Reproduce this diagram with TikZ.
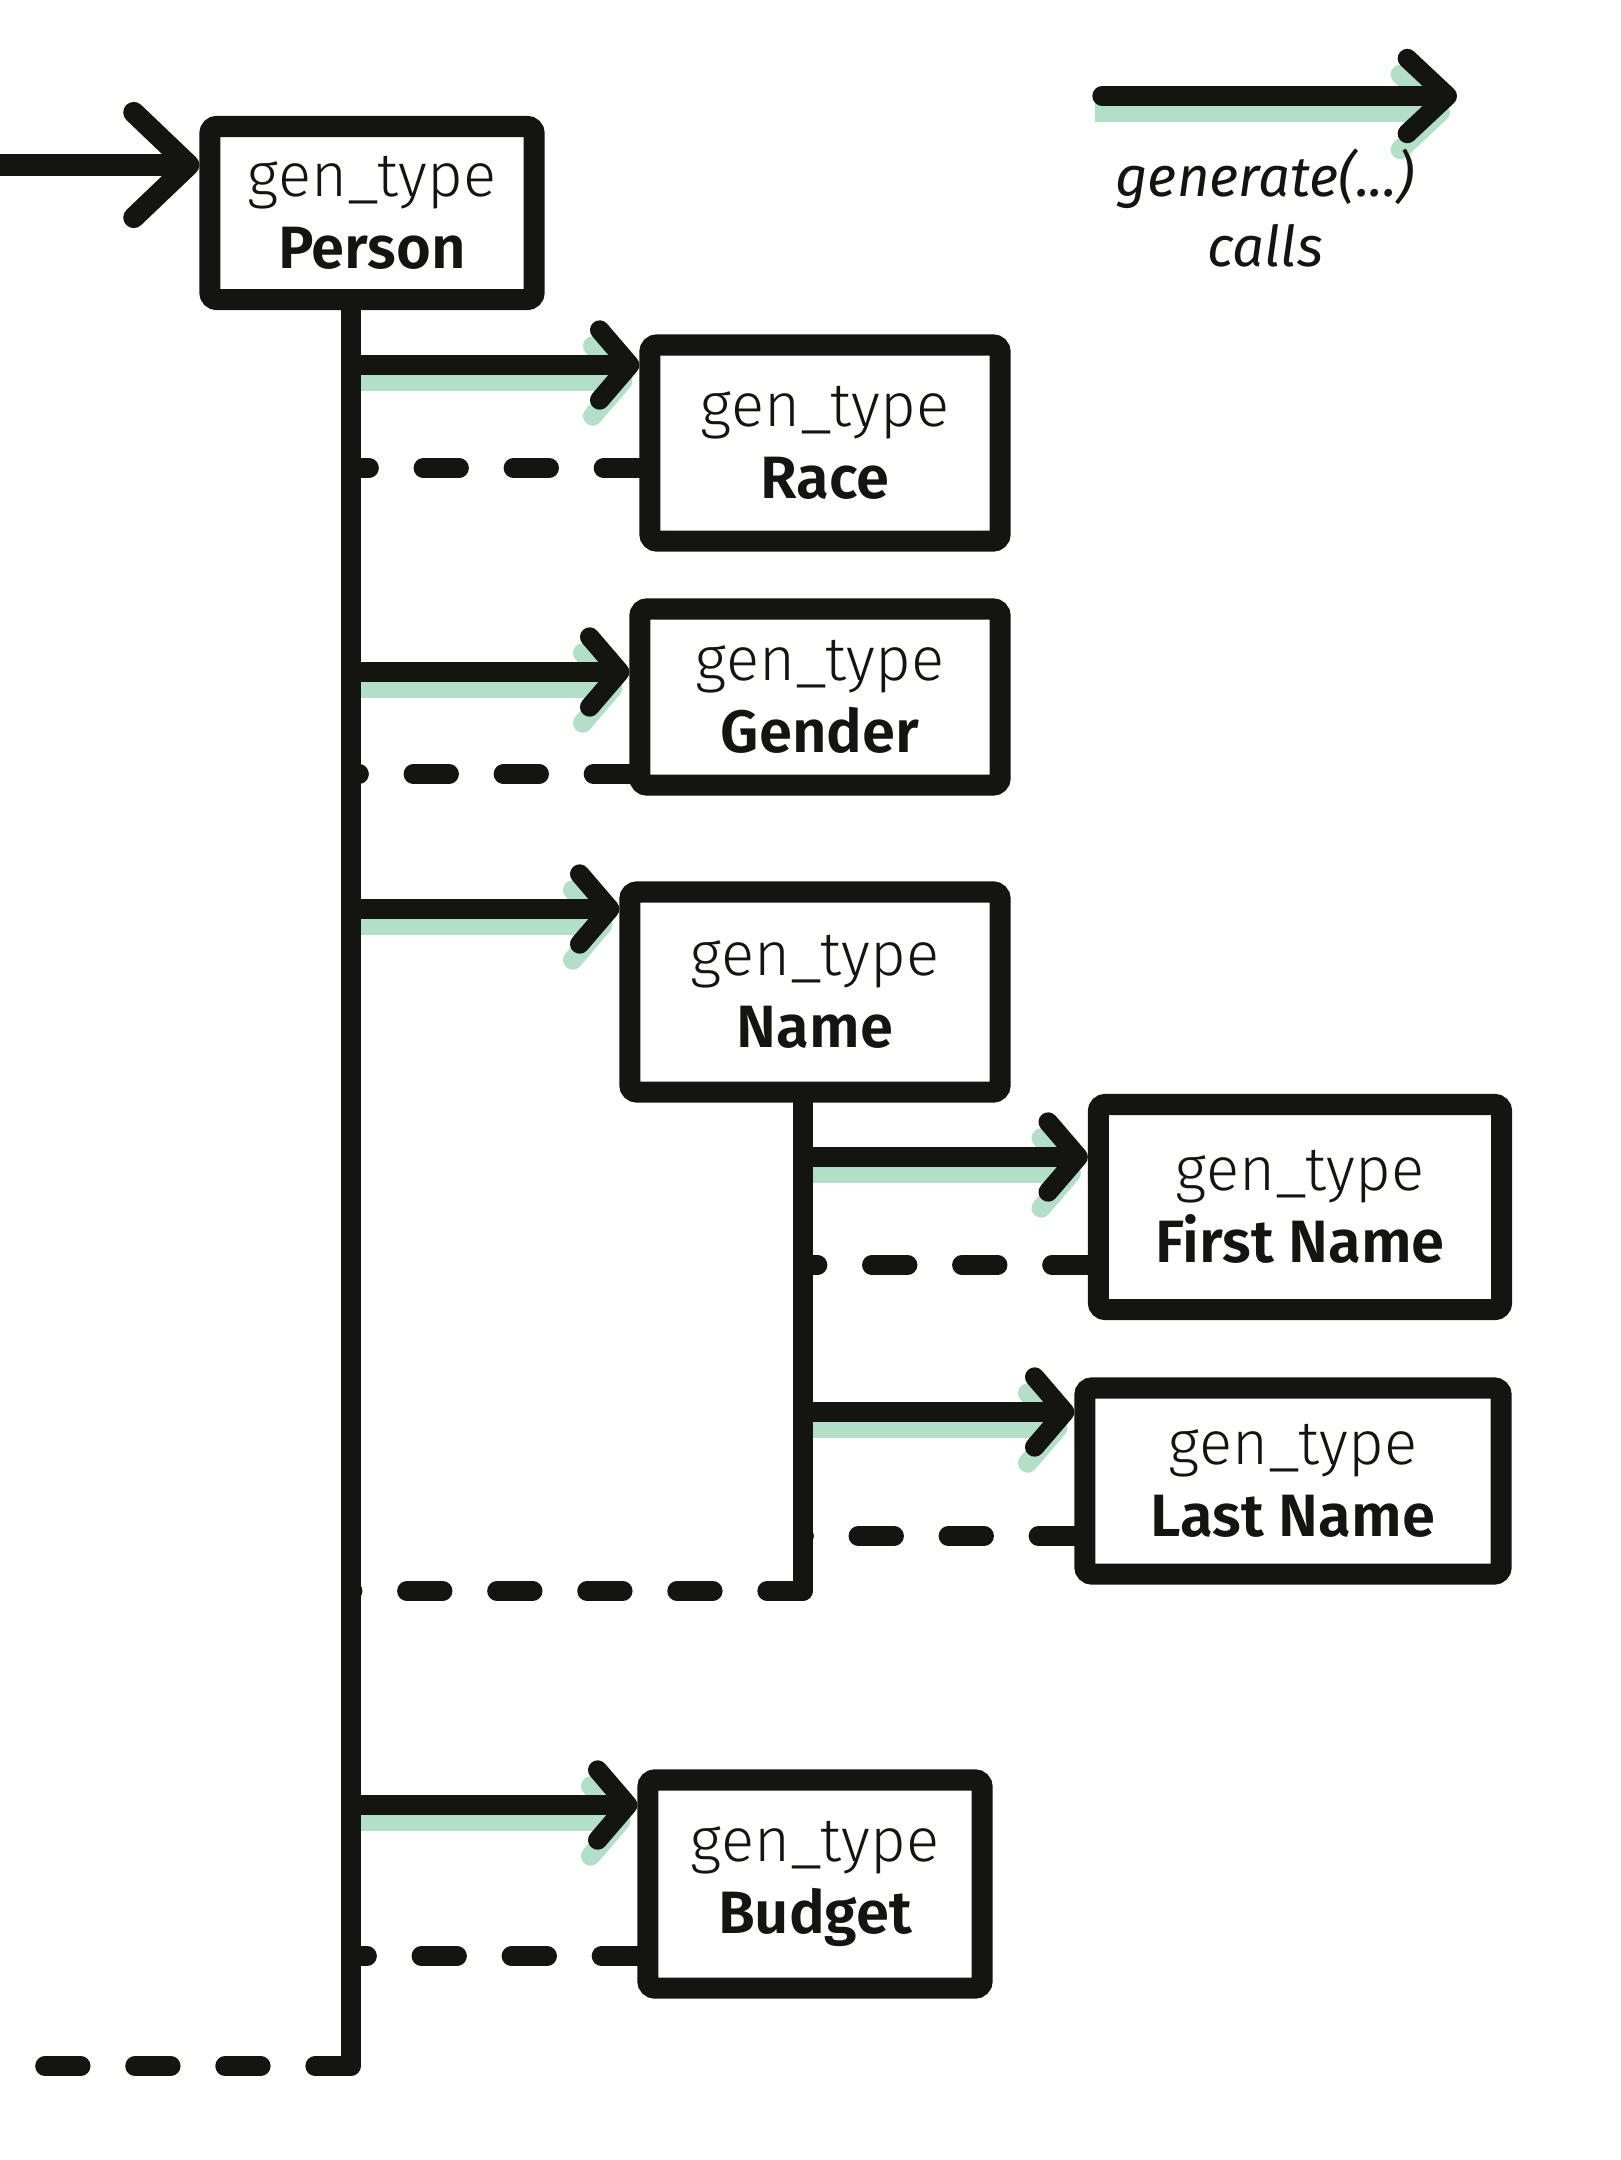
\documentclass[tikz,border=0pt]{standalone}
\usepackage{fontspec}
\setmainfont{Fira Sans}
\newfontfamily\thinfont{Fira Sans Light}
\newfontfamily\namefont{Fira Sans SemiBold}
\usetikzlibrary{arrows.meta}

\definecolor{ink}{HTML}{141511}
\definecolor{mint}{HTML}{B3DFC8}

\begin{document}
\begin{tikzpicture}[x=0.01cm, y=-0.01cm,
  box/.style={draw=ink, line width=6pt, rounded corners=2pt, align=center,
              inner sep=0pt, text=ink, font=\fontsize{17.5}{20.5}\selectfont},
  line/.style={draw=ink, line width=5.5pt, line cap=round},
  call/.style={line, -{Straight Barb[length=0.3cm, width=0.7cm, round]},
               preaction={draw=mint, line width=5.5pt, line cap=butt,
                          transform canvas={shift={(-7,16)}}}},
  ret/.style={line, dash pattern=on 0.36cm off 0.54cm},
  lbl/.style={font=\fontsize{16}{20}\selectfont\itshape, text=ink, align=center},
]
\useasboundingbox (0,0) rectangle (1620,2160);

% the gen_type boxes
\node[box, minimum width=3.24cm, minimum height=1.73cm] (person) at (372,213)
  {{\thinfont gen\_type}\\{\namefont\fontsize{17}{20}\selectfont Person}};
\node[box, minimum width=3.50cm, minimum height=1.96cm] (race) at (825,443)
  {{\thinfont gen\_type}\\{\namefont\fontsize{17}{20}\selectfont Race}};
\node[box, minimum width=3.60cm, minimum height=1.76cm] (gender) at (820,697)
  {{\thinfont gen\_type}\\{\namefont\fontsize{17}{20}\selectfont Gender}};
\node[box, minimum width=3.70cm, minimum height=2.00cm] (name) at (815,992)
  {{\thinfont gen\_type}\\{\namefont\fontsize{17}{20}\selectfont Name}};
\node[box, minimum width=4.03cm, minimum height=2.05cm] (first) at (1300,1207)
  {{\thinfont gen\_type}\\{\namefont\fontsize{17}{20}\selectfont First Name}};
\node[box, minimum width=4.16cm, minimum height=1.86cm] (last) at (1293,1481)
  {{\thinfont gen\_type}\\{\namefont\fontsize{17}{20}\selectfont Last Name}};
\node[box, minimum width=3.34cm, minimum height=2.08cm] (budget) at (815,1884)
  {{\thinfont gen\_type}\\{\namefont\fontsize{17}{20}\selectfont Budget}};

% trunk points
\coordinate (ptop) at (351,310);
\coordinate (pend) at (351,2066);
\coordinate (ntop) at (803,1100);
\coordinate (nend) at (803,1591);
\coordinate (caller) at (0,165);
\coordinate (back) at (41,2066);

% calls into Person
\draw[line, line width=6pt, -{Straight Barb[length=0.55cm, width=1.05cm, round]}] (caller) -- (caller -| person.west);

% calls from Person
\coordinate (c1) at (351,365);
\coordinate (c2) at (351,672);
\coordinate (c3) at (351,909);
\coordinate (c4) at (351,1805);
\draw[call] (c1) -- (c1 -| race.west);
\draw[call] (c2) -- (c2 -| gender.west);
\draw[call] (c3) -- (c3 -| name.west);
\draw[call] (c4) -- (c4 -| budget.west);

% returns to Person
\coordinate (r1) at (351,468);
\coordinate (r2) at (351,774);
\coordinate (r4) at (351,1956);
\draw[ret] (r1 -| race.west) -- (r1);
\draw[ret] (r2 -| gender.west) -- (r2);
\draw[ret] (r4 -| budget.west) -- (r4);
\draw[ret] (nend) -- (nend -| ptop);

% calls and returns of Name
\coordinate (n1) at (803,1157);
\coordinate (n2) at (803,1412);
\coordinate (m1) at (803,1265);
\coordinate (m2) at (803,1536);
\draw[call] (n1) -- (n1 -| first.west);
\draw[call] (n2) -- (n2 -| last.west);
\draw[ret] (m1 -| first.west) -- (m1);
\draw[ret] (m2 -| last.west) -- (m2);

% trunks
\draw[line] (ptop) -- (pend);
\draw[line] (ntop) -- (nend);

% back to the caller
\draw[ret] (pend) -- (back);

% key
\coordinate (keyA) at (1102,96);
\coordinate (keyB) at (1457,96);
\draw[call, -{Straight Barb[length=0.4cm, width=0.75cm, round]}] (keyA) -- (keyB);
\node[lbl] (keytext) at (1265,208) {generate(...)\\calls};
\end{tikzpicture}
\end{document}
